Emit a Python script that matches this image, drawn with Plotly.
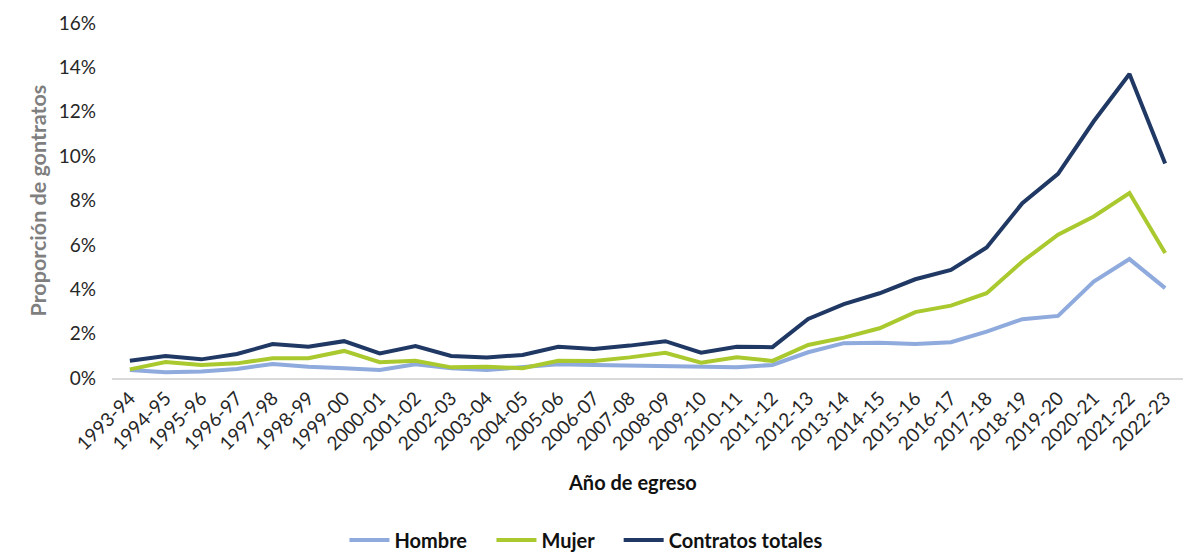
import plotly.graph_objects as go

years = ["1993-94", "1994-95", "1995-96", "1996-97", "1997-98", "1998-99", "1999-00",
         "2000-01", "2001-02", "2002-03", "2003-04", "2004-05", "2005-06", "2006-07",
         "2007-08", "2008-09", "2009-10", "2010-11", "2011-12", "2012-13", "2013-14",
         "2014-15", "2015-16", "2016-17", "2017-18", "2018-19", "2019-20", "2020-21",
         "2021-22", "2022-23"]

hombre = [0.36, 0.26, 0.29, 0.41, 0.63, 0.51, 0.44, 0.36, 0.62, 0.44,
          0.36, 0.51, 0.62, 0.59, 0.56, 0.54, 0.48, 0.48, 0.59, 1.16,
          1.57, 1.59, 1.53, 1.61, 2.09, 2.65, 2.80, 4.35, 5.36, 4.05]

mujer = [0.39, 0.72, 0.59, 0.66, 0.89, 0.89, 1.22, 0.71, 0.78, 0.48,
         0.51, 0.44, 0.78, 0.77, 0.93, 1.14, 0.69, 0.93, 0.77, 1.49,
         1.82, 2.24, 2.97, 3.26, 3.82, 5.25, 6.46, 7.28, 8.34, 5.63]

totales = [0.78, 0.99, 0.84, 1.08, 1.53, 1.41, 1.66, 1.11, 1.44, 0.99,
           0.92, 1.04, 1.41, 1.31, 1.46, 1.66, 1.14, 1.41, 1.39, 2.66,
           3.33, 3.82, 4.45, 4.87, 5.88, 7.88, 9.20, 11.57, 13.70, 9.67]

series_names = ["Hombre", "Mujer", "Contratos totales"]
colors = ["#8FAADC", "#A9C92F", "#203864"]

PAD = "\u00a0" * 4
fig = go.Figure()
for i, (name, vals, col) in enumerate(zip(series_names, [hombre, mujer, totales], colors)):
    fig.add_trace(go.Scatter(
        x=years, y=[v / 100 for v in vals], mode="lines",
        name=name + (PAD if i < len(series_names) - 1 else ""),
        line=dict(color=col, width=4),
    ))

FONT = "Lato, 'Open Sans', sans-serif"

# page body has an 8px margin: figure is drawn 8px in from the top-left
W, H = 1187, 546
L, T = 104, 15
PW, PH = 1071, 355

fig.update_layout(
    width=W, height=H,
    margin=dict(l=L, r=W - L - PW, t=T, b=H - T - PH, autoexpand=False),
    plot_bgcolor="white", paper_bgcolor="white",
    font=dict(family=FONT, color="#404040"),
    showlegend=True,
    legend=dict(
        orientation="h", x=0.443, xanchor="center", y=-0.456, yanchor="middle",
        font=dict(family=FONT, size=20, color="#111111", weight="bold"),
        itemwidth=40, tracegroupgap=0,
    ),
    xaxis=dict(
        type="category", range=[-0.5, len(years) - 0.5],
        tickangle=-45, tickfont=dict(size=19, color="#262626"),
        showline=True, linecolor="#D9D9D9", linewidth=1.5,
        showgrid=False, ticks="", zeroline=False, automargin=False,
    ),
    yaxis=dict(
        range=[0, 0.16], dtick=0.02, tickformat=".0%",
        tickfont=dict(size=19, color="#262626"), ticklabelstandoff=15,
        showgrid=False, showline=False, zeroline=False, ticks="", automargin=False,
    ),
    annotations=[
        dict(text="<b>Año de egreso</b>", x=(632 - 112) / PW, y=-0.293,
             xref="paper", yref="paper",
             xanchor="center", yanchor="middle", showarrow=False,
             font=dict(family=FONT, size=20, color="#111111")),
        dict(text="<b>Proporción de gontratos</b>", x=(37 - 112) / PW, y=0.5,
             xref="paper", yref="paper",
             xanchor="center", yanchor="middle", showarrow=False, textangle=-90,
             font=dict(family=FONT, size=21.5, color="#7F7F7F")),
    ],
)

fig.write_html("out.html")
